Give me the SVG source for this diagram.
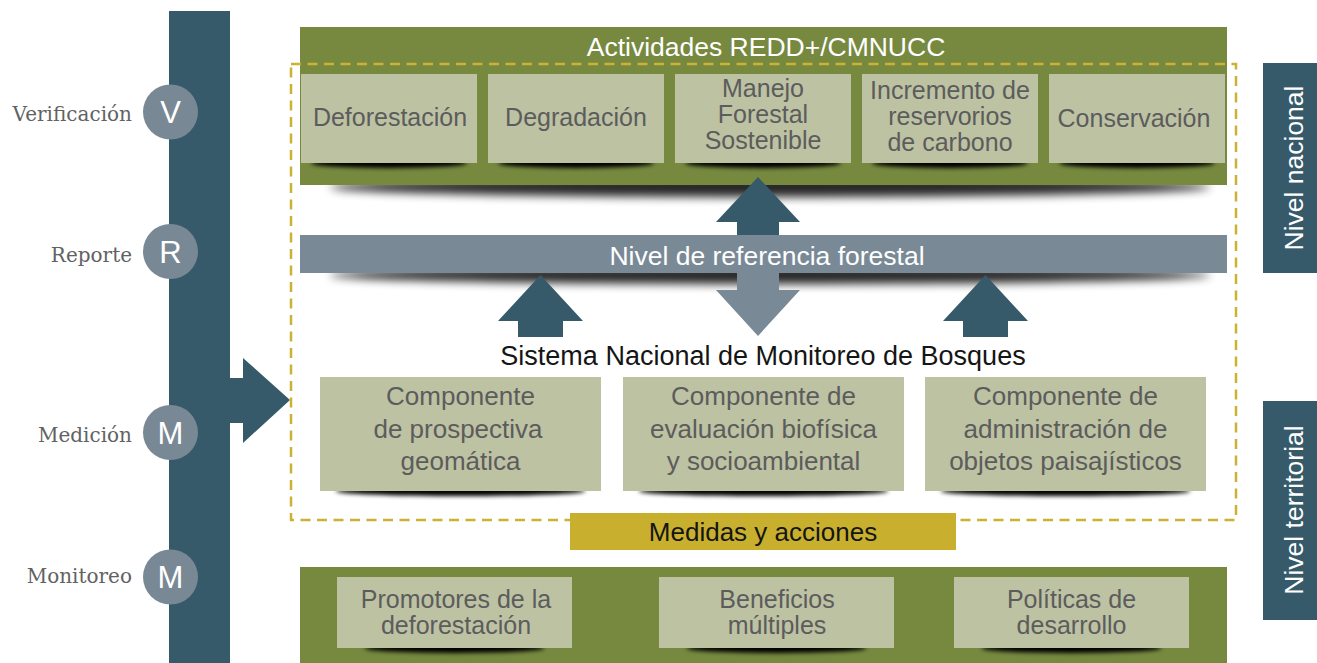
<svg xmlns="http://www.w3.org/2000/svg" width="1317" height="663" viewBox="0 0 1317 663">
<defs>
<style>
.box{fill:#bdc2a3;}
.bt{font-family:"Liberation Sans",Arial,sans-serif;font-size:25px;fill:#5c5c5c;text-anchor:middle;}
.ct2{font-size:26px;}
.green{fill:#76893f;}
.dark{fill:#365a69;}
.gray{fill:#798a96;}
.lbl{font-family:"DejaVu Serif",serif;font-size:20px;fill:#626262;text-anchor:end;}
.circ{fill:#798895;}
.ct{font-family:"Liberation Sans",Arial,sans-serif;font-size:31px;fill:#ffffff;text-anchor:middle;}
.wt{font-family:"Liberation Sans",Arial,sans-serif;font-size:26.5px;fill:#ffffff;text-anchor:middle;}
.bk{font-family:"Liberation Sans",Arial,sans-serif;font-size:27px;fill:#151515;text-anchor:middle;}
.sh{fill:#000000;filter:url(#blurS);}
.shL{fill:#000000;filter:url(#blurL);opacity:0.85;}
</style>
<filter id="blurS" x="-10%" y="-300%" width="120%" height="700%"><feGaussianBlur stdDeviation="2"/></filter>
<filter id="blurL" x="-10%" y="-300%" width="120%" height="700%"><feGaussianBlur stdDeviation="5"/></filter>
</defs>

<!-- left axis -->
<g id="axis">
<rect class="dark" x="169" y="11" width="61" height="652"/>
<polygon class="dark" points="229,378 243,378 243,358 290,400 243,443 243,423 229,423"/>
</g>

<g id="stage-verificacion">
<text class="lbl" x="132" y="121">Verificación</text>
<circle class="circ" cx="170.5" cy="112" r="27.5"/>
<text class="ct" x="170.5" y="123">V</text>
</g>
<g id="stage-reporte">
<text class="lbl" x="132" y="262">Reporte</text>
<circle class="circ" cx="170.5" cy="251.5" r="27.5"/>
<text class="ct" x="170.5" y="262.5">R</text>
</g>
<g id="stage-medicion">
<text class="lbl" x="132" y="442">Medición</text>
<circle class="circ" cx="170.5" cy="432.5" r="27.5"/>
<text class="ct" x="170.5" y="443.5">M</text>
</g>
<g id="stage-monitoreo">
<text class="lbl" x="132" y="583">Monitoreo</text>
<circle class="circ" cx="170.5" cy="577" r="27.5"/>
<text class="ct" x="170.5" y="588">M</text>
</g>

<!-- top band -->
<g id="redd">
<ellipse class="shL" cx="770" cy="187" rx="440" ry="10"/>
<rect class="green" x="300" y="27" width="927" height="158"/>
<text class="wt" x="766" y="56">Actividades REDD+/CMNUCC</text>
</g>

<!-- dashed national scope -->
<rect id="scope" x="291" y="64" width="945" height="456" fill="none" stroke="#cbb234" stroke-width="2.5" stroke-dasharray="10 6.5"/>

<g id="deforestacion">
<ellipse class="sh" cx="389" cy="163" rx="78" ry="5"/>
<rect class="box" x="301" y="74" width="176" height="89"/>
<text class="bt" x="390" y="126">Deforestación</text>
</g>
<g id="degradacion">
<ellipse class="sh" cx="576" cy="163" rx="78" ry="5"/>
<rect class="box" x="488" y="74" width="176" height="89"/>
<text class="bt" x="576" y="126">Degradación</text>
</g>
<g id="manejo">
<ellipse class="sh" cx="763" cy="163" rx="78" ry="5"/>
<rect class="box" x="675" y="74" width="176" height="89"/>
<text class="bt" x="763" y="97">Manejo</text>
<text class="bt" x="763" y="123">Forestal</text>
<text class="bt" x="763" y="149">Sostenible</text>
</g>
<g id="incremento">
<ellipse class="sh" cx="950" cy="163" rx="78" ry="5"/>
<rect class="box" x="862" y="74" width="176" height="89"/>
<text class="bt" x="950" y="99">Incremento de</text>
<text class="bt" x="950" y="125">reservorios</text>
<text class="bt" x="950" y="151">de carbono</text>
</g>
<g id="conservacion">
<ellipse class="sh" cx="1137" cy="163" rx="78" ry="5"/>
<rect class="box" x="1049" y="74" width="176" height="89"/>
<text class="bt" x="1134" y="127">Conservación</text>
</g>

<!-- reference level bar -->
<g id="nivel-referencia">
<ellipse class="shL" cx="770" cy="275" rx="440" ry="9"/>
<rect class="gray" x="300" y="235" width="927" height="38"/>
<text class="wt" x="767" y="265">Nivel de referencia forestal</text>
</g>

<!-- connectors -->
<g id="connectors">
<polygon class="dark" points="758,177 800,222 779,222 779,235 737,235 737,222 716,222"/>
<polygon class="gray" points="737,273 779,273 779,290 800,290 758,336 716,290 737,290"/>
<polygon class="dark" points="540.5,275 583,321 563,321 563,337 518,337 518,321 498,321"/>
<polygon class="dark" points="985.5,275 1028,321 1008,321 1008,337 963,337 963,321 943,321"/>
</g>

<g id="snmb">
<text class="bk" x="763" y="365">Sistema Nacional de Monitoreo de Bosques</text>
</g>

<g id="comp-prospectiva">
<ellipse class="sh" cx="460.5" cy="491" rx="125" ry="5"/>
<rect class="box" x="320" y="377" width="281" height="114"/>
<text class="bt ct2" x="460.5" y="405">Componente</text>
<text class="bt ct2" x="458" y="438">de prospectiva</text>
<text class="bt ct2" x="460.5" y="470">geomática</text>
</g>
<g id="comp-evaluacion">
<ellipse class="sh" cx="763.5" cy="491" rx="125" ry="5"/>
<rect class="box" x="623" y="377" width="281" height="114"/>
<text class="bt ct2" x="763.5" y="405">Componente de</text>
<text class="bt ct2" x="763.5" y="438">evaluación biofísica</text>
<text class="bt ct2" x="763.5" y="470">y socioambiental</text>
</g>
<g id="comp-administracion">
<ellipse class="sh" cx="1065.5" cy="491" rx="125" ry="5"/>
<rect class="box" x="925" y="377" width="281" height="114"/>
<text class="bt ct2" x="1065.5" y="405">Componente de</text>
<text class="bt ct2" x="1065.5" y="438">administración de</text>
<text class="bt ct2" x="1065.5" y="470">objetos paisajísticos</text>
</g>

<g id="medidas">
<rect x="570" y="513" width="386" height="37" fill="#c8b02e"/>
<text class="bk" x="763" y="541" style="font-size:26px">Medidas y acciones</text>
</g>

<!-- bottom band -->
<g id="territorial-band">
<rect class="green" x="300" y="567" width="927" height="96"/>
</g>
<g id="promotores">
<ellipse class="sh" cx="454.5" cy="648" rx="90" ry="5"/>
<rect class="box" x="337" y="577" width="235" height="71"/>
<text class="bt" x="456" y="608">Promotores de la</text>
<text class="bt" x="456" y="634">deforestación</text>
</g>
<g id="beneficios">
<ellipse class="sh" cx="776.5" cy="648" rx="90" ry="5"/>
<rect class="box" x="659" y="577" width="235" height="71"/>
<text class="bt" x="777" y="608">Beneficios</text>
<text class="bt" x="777" y="634">múltiples</text>
</g>
<g id="politicas">
<ellipse class="sh" cx="1071.5" cy="648" rx="90" ry="5"/>
<rect class="box" x="954" y="577" width="235" height="71"/>
<text class="bt" x="1071.5" y="608">Políticas de</text>
<text class="bt" x="1071.5" y="634">desarrollo</text>
</g>

<!-- right level labels -->
<g id="nivel-nacional">
<rect class="dark" x="1263" y="63" width="54" height="210"/>
<text class="wt" x="1303" y="168" transform="rotate(-90 1303 168)">Nivel nacional</text>
</g>
<g id="nivel-territorial">
<rect class="dark" x="1263" y="401" width="54" height="219"/>
<text class="wt" x="1303" y="510" transform="rotate(-90 1303 510)">Nivel territorial</text>
</g>
</svg>
